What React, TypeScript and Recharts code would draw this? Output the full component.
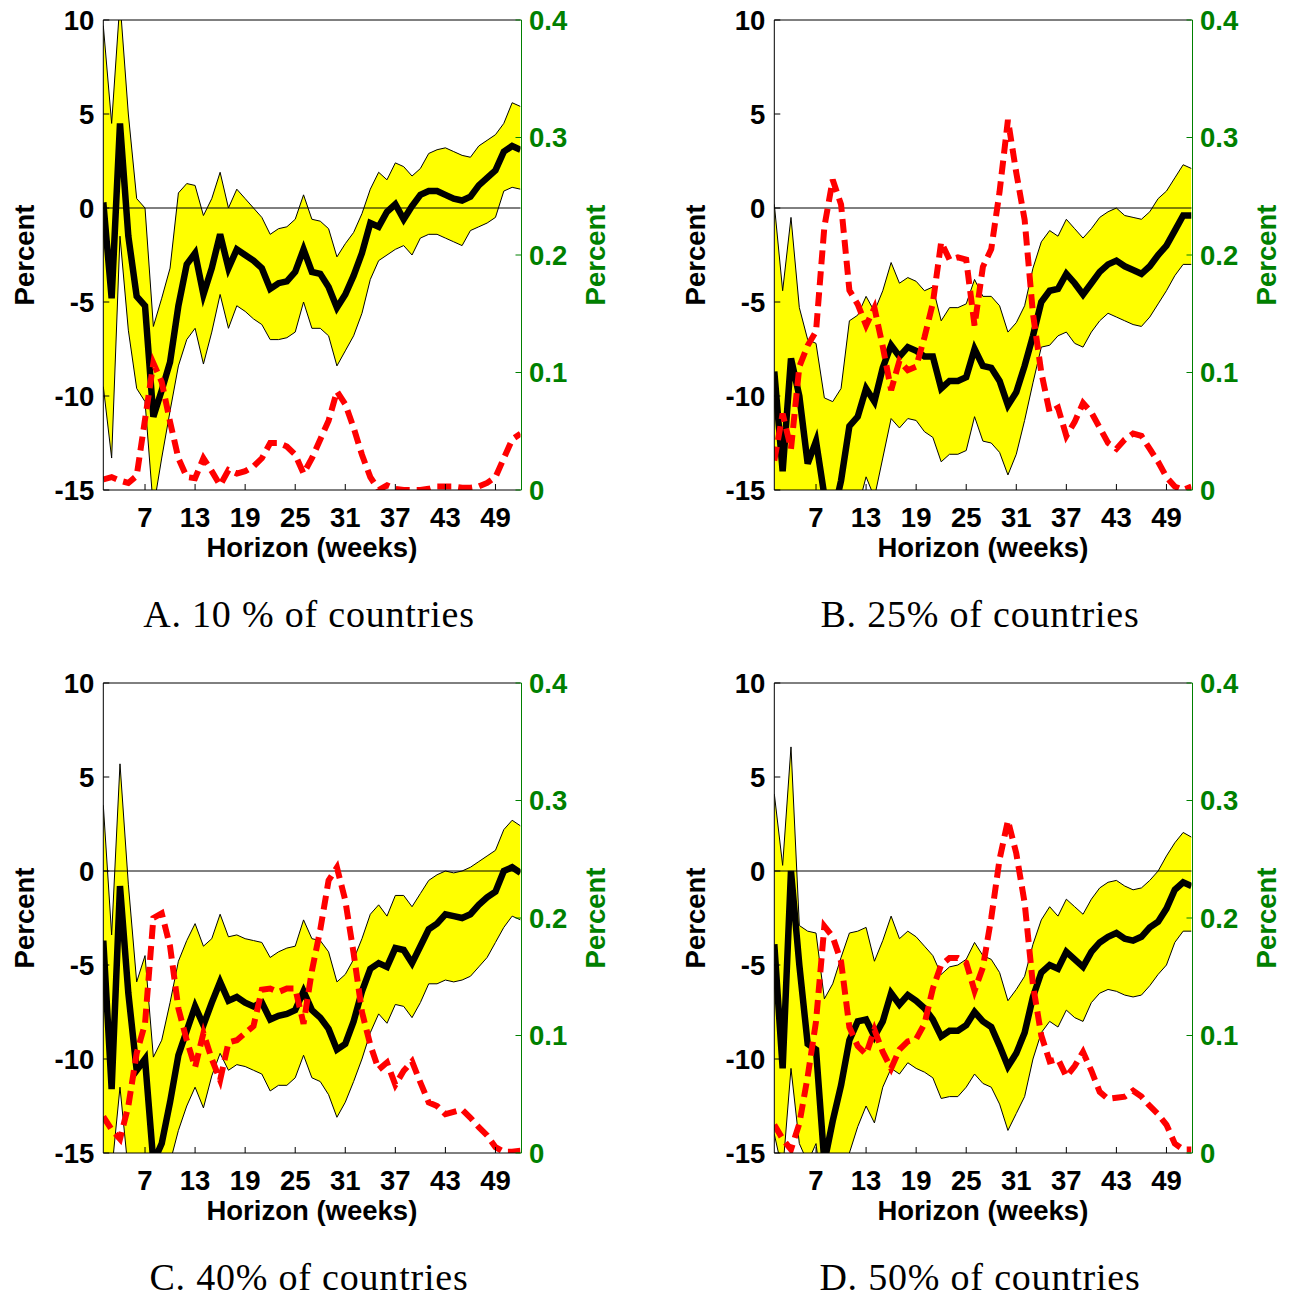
import { ComposedChart, Area, Line, XAxis, YAxis, ReferenceLine } from 'recharts'

// horizons shown on the x axis (weeks)
const weeks = [2, 3, 4, 5, 6, 7, 8, 9, 10, 11, 12, 13, 14, 15, 16, 17, 18, 19, 20, 21, 22, 23, 24, 25, 26, 27,
  28, 29, 30, 31, 32, 33, 34, 35, 36, 37, 38, 39, 40, 41, 42, 43, 44, 45, 46, 47, 48, 49, 50, 51, 52]
const weekTicks = [7, 13, 19, 25, 31, 37, 43, 49]
const pctTicks = [-15, -10, -5, 0, 5, 10]
const shareTicks = [0, 0.1, 0.2, 0.3, 0.4]

// A. 10 % of countries
const aUpper = [9.7, 4.5, 11, 5, 0.5, 0, -6.3, -4.8, -3.2, 0.8, 1.3, 1.2, -0.4, 0.5, 1.9, 0, 1.0, 0.5, 0, -0.5,
  -1.4, -1.1, -1.0, -0.6, 0.7, -0.6, -0.7, -1.1, -2.6, -1.9, -1.3, -0.3, 1.0, 1.9, 1.5, 2.4, 2.2, 1.7, 2.1, 2.9,
  3.1, 3.2, 3.0, 2.8, 2.7, 3.3, 3.6, 3.9, 4.5, 5.6, 5.4]
const aMid = [0.3, -4.8, 4.5, -1.5, -4.7, -5.2, -11.1, -9.7, -8.2, -5.2, -3.0, -2.4, -4.6, -3.2, -1.4, -3.2, -2.2,
  -2.5, -2.8, -3.2, -4.3, -4.0, -3.9, -3.4, -2.2, -3.4, -3.5, -4.2, -5.3, -4.6, -3.6, -2.4, -0.8, -1.0, -0.2, 0.2,
  -0.6, 0.1, 0.7, 0.9, 0.9, 0.7, 0.5, 0.4, 0.6, 1.2, 1.6, 2.0, 3.0, 3.3, 3.1]
const aLower = [-9.5, -13.3, -1.5, -6.5, -9.6, -10.3, -16, -13.3, -10.8, -8.4, -7.0, -6.4, -8.3, -6.6, -4.6, -6.4,
  -5.2, -5.5, -5.9, -6.2, -7.0, -7.0, -6.9, -6.6, -5.0, -6.4, -6.4, -6.8, -8.4, -7.6, -6.8, -5.6, -3.8, -2.8, -2.5,
  -2.2, -2.0, -2.5, -1.6, -1.4, -1.4, -1.6, -1.8, -2.0, -1.2, -1.0, -0.8, -0.5, 0.9, 1.1, 1.0]
const aShare = [0.009, 0.011, 0.008, 0.006, 0.012, 0.06, 0.108, 0.092, 0.058, 0.027, 0.011, 0.01, 0.027, 0.016,
  0.004, 0.017, 0.014, 0.016, 0.02, 0.027, 0.04, 0.04, 0.037, 0.03, 0.014, 0.027, 0.043, 0.059, 0.084, 0.073, 0.053,
  0.03, 0.011, 0, 0.004, 0.001, 0, 0, 0, 0.001, 0.003, 0.003, 0.003, 0.002, 0.002, 0.003, 0.006, 0.011, 0.027,
  0.043, 0.048]

// B. 25% of countries
const bUpper = [0.2, -4.4, -0.5, -5.3, -7.0, -7.2, -10.1, -10.3, -9.6, -6.0, -5.7, -4.7, -5.5, -4.4, -2.9, -4.0,
  -3.7, -3.9, -4.4, -4.2, -6.0, -5.3, -5.3, -5.1, -3.8, -4.7, -4.7, -5.2, -6.6, -6.1, -5.2, -3.2, -1.8, -1.2, -1.5,
  -0.6, -1.1, -1.6, -1.1, -0.5, -0.2, 0, -0.4, -0.5, -0.6, -0.2, 0.5, 0.9, 1.6, 2.3, 2.1]
const bMid = [-8.7, -14.0, -8.0, -10.0, -13.6, -12.4, -15.3, -16.5, -14.5, -11.6, -11.1, -9.6, -10.3, -8.5, -7.3,
  -7.9, -7.4, -7.6, -7.9, -7.9, -9.6, -9.2, -9.2, -9.0, -7.5, -8.4, -8.5, -9.2, -10.5, -9.8, -8.4, -6.8, -5.0, -4.4,
  -4.3, -3.5, -4.0, -4.6, -4.0, -3.4, -3.0, -2.8, -3.1, -3.3, -3.5, -3.1, -2.5, -2.0, -1.2, -0.4, -0.4]
const bLower = [-17, -18, -17, -18, -19, -20, -21, -21, -19, -17, -16, -14.3, -15.4, -13.3, -11.2, -11.7, -11.2,
  -11.3, -11.9, -12.2, -13.5, -13.1, -13.1, -12.9, -11.1, -12.4, -12.5, -13.0, -14.2, -13.1, -11.3, -9.3, -7.4, -7.3,
  -6.8, -6.6, -7.2, -7.4, -6.6, -6.0, -5.6, -5.8, -6.0, -6.2, -6.3, -5.8, -5.1, -4.4, -3.6, -3.0, -3.0]
const bShare = [0.025, 0.065, 0.035, 0.105, 0.123, 0.135, 0.224, 0.264, 0.243, 0.17, 0.158, 0.14, 0.155, 0.122,
  0.085, 0.11, 0.102, 0.105, 0.13, 0.159, 0.211, 0.196, 0.198, 0.196, 0.14, 0.19, 0.205, 0.254, 0.315, 0.27, 0.23,
  0.15, 0.1, 0.066, 0.07, 0.046, 0.058, 0.074, 0.066, 0.053, 0.04, 0.035, 0.043, 0.048, 0.046, 0.035, 0.024, 0.011,
  0.003, 0, 0.003]

// C. 40% of countries
const cUpper = [3.5, -3.4, 5.7, -0.7, -5.9, -4.5, -9.9, -9.0, -7.0, -4.8, -3.7, -2.8, -4.0, -3.6, -2.3, -3.5, -3.4,
  -3.6, -3.7, -3.8, -4.6, -4.3, -4.1, -4.0, -2.6, -3.6, -3.7, -4.3, -5.9, -5.5, -4.7, -3.6, -2.3, -1.8, -2.4, -1.3,
  -1.3, -1.9, -1.2, -0.5, -0.2, 0, -0.1, 0, 0.2, 0.5, 0.8, 1.1, 2.2, 2.7, 2.4]
const cMid = [-3.7, -11.6, -0.8, -6.5, -10.6, -10.0, -15.5, -14.5, -12.3, -9.8, -8.5, -7.2, -8.2, -7.0, -5.9, -6.9,
  -6.7, -7.0, -7.2, -7.0, -7.9, -7.7, -7.6, -7.4, -6.4, -7.4, -7.8, -8.4, -9.5, -9.2, -8.0, -6.4, -5.2, -4.9, -5.1,
  -4.1, -4.2, -4.9, -4.0, -3.1, -2.8, -2.3, -2.4, -2.5, -2.3, -1.8, -1.4, -1.1, 0, 0.2, -0.1]
const cLower = [-17, -16, -11.5, -16, -16, -18, -20, -19, -15.5, -13.8, -12.5, -11.5, -12.6, -10.9, -9.7, -10.6,
  -10.3, -10.4, -10.6, -10.8, -11.7, -11.4, -11.4, -11.0, -9.8, -11.0, -11.2, -11.9, -13.1, -12.3, -11.2, -10.0,
  -8.6, -7.6, -8.1, -7.1, -7.2, -7.8, -7.0, -6.0, -6.0, -5.8, -5.9, -5.8, -5.6, -5.1, -4.6, -3.8, -3.0, -2.4, -2.6]
const cShare = [0.031, 0.02, 0.012, 0.04, 0.085, 0.11, 0.2, 0.204, 0.176, 0.123, 0.096, 0.073, 0.102, 0.08, 0.062,
  0.094, 0.096, 0.102, 0.108, 0.139, 0.14, 0.137, 0.14, 0.14, 0.11, 0.155, 0.19, 0.232, 0.243, 0.215, 0.17, 0.12,
  0.092, 0.071, 0.077, 0.058, 0.07, 0.078, 0.06, 0.043, 0.04, 0.033, 0.035, 0.037, 0.03, 0.022, 0.015, 0.005, 0.001,
  0.001, 0.002]

// D. 50% of countries
const dUpper = [4.1, 0.3, 6.6, -2.9, -3.2, -3.3, -6.8, -6.0, -4.6, -3.3, -3.2, -3.0, -4.8, -3.7, -2.4, -3.6, -3.2,
  -3.5, -4.0, -4.5, -5.5, -5.1, -5.0, -4.7, -3.8, -4.5, -4.7, -5.4, -6.9, -6.3, -5.6, -3.9, -2.6, -1.9, -2.4, -1.5,
  -1.9, -2.3, -1.5, -0.9, -0.6, -0.5, -0.8, -1.0, -0.9, -0.5, 0, 0.8, 1.5, 2.05, 1.8]
const dMid = [-3.9, -10.5, 0, -5.0, -9.2, -9.5, -15.5, -13.3, -11.4, -9.0, -8.0, -7.9, -8.8, -8.0, -6.5, -7.1, -6.6,
  -6.9, -7.3, -7.9, -8.8, -8.5, -8.5, -8.2, -7.5, -8.0, -8.3, -9.3, -10.4, -9.7, -8.6, -6.7, -5.4, -5.0, -5.2, -4.3,
  -4.7, -5.1, -4.3, -3.8, -3.5, -3.3, -3.6, -3.7, -3.5, -3.0, -2.7, -2.0, -1.0, -0.6, -0.8]
const dLower = [-14, -16, -10.5, -14.5, -15.5, -14.5, -18, -17, -16, -15, -13.6, -12.5, -13.4, -11.5, -10.5, -10.8,
  -10.2, -10.5, -10.7, -11.0, -12.1, -12.0, -12.0, -11.5, -10.8, -11.3, -11.5, -12.4, -13.8, -12.9, -12.0, -10.0,
  -8.6, -8.0, -8.3, -7.4, -7.8, -8.0, -7.0, -6.5, -6.3, -6.4, -6.6, -6.7, -6.6, -6.1, -5.5, -5.0, -3.8, -3.2, -3.2]
const dShare = [0.024, 0.012, 0.003, 0.025, 0.065, 0.112, 0.193, 0.184, 0.163, 0.107, 0.091, 0.084, 0.105, 0.086,
  0.072, 0.088, 0.095, 0.097, 0.11, 0.14, 0.16, 0.166, 0.166, 0.162, 0.138, 0.158, 0.2, 0.25, 0.283, 0.255, 0.213,
  0.143, 0.1, 0.078, 0.08, 0.065, 0.074, 0.086, 0.07, 0.052, 0.046, 0.047, 0.048, 0.053, 0.048, 0.04, 0.033, 0.024,
  0.008, 0.003, 0.003]

const W = 646
const H = 663
const PLOT = { left: 103.3, right: 520.5, top: 20, bottom: 490 }
const SANS = '"Liberation Sans", Arial, Helvetica, sans-serif'
const SERIF = '"Liberation Serif", "Times New Roman", serif'
const GREEN = '#008000'
const FS = 27.5

function Panel({ upper, mid, lower, share, caption }: {
  upper: number[]; mid: number[]; lower: number[]; share: number[]; caption: string
}) {
  const rows = weeks.map((week, i) => ({ week, band: [lower[i], upper[i]], mid: mid[i], share: share[i] }))
  const cy = (PLOT.top + PLOT.bottom) / 2
  const cx = (PLOT.left + PLOT.right) / 2
  const tickFont = { fontSize: FS, fontFamily: SANS, fontWeight: 'bold' }

  return (
    <div style={{ position: 'relative', width: W, height: H }}>
      <ComposedChart width={W} height={H} data={rows} margin={{ top: PLOT.top - 1, right: 0, bottom: 0, left: 0 }}>
        <XAxis xAxisId="b" dataKey="week" type="number" domain={[2, 52]} ticks={weekTicks} interval={0}
          allowDataOverflow height={H - PLOT.bottom} tickSize={-6} tickMargin={23} stroke="#000"
          tick={{ ...tickFont, fill: '#000' }}
          label={() => (
            <text x={cx} y={557} textAnchor="middle" fontSize={FS} fontWeight="bold" fontFamily={SANS}
              fill="#000">Horizon (weeks)</text>
          )} />
        {/* top frame with inward ticks */}
        <XAxis xAxisId="t" orientation="top" dataKey="week" type="number" domain={[2, 52]} ticks={weekTicks}
          interval={0} allowDataOverflow height={1} tickSize={-6} tick={false} stroke="#000" />
        <YAxis yAxisId="l" domain={[-15, 10]} ticks={pctTicks} interval={0} allowDataOverflow width={PLOT.left}
          tickSize={-6} tickMargin={15} stroke="#000" tick={{ ...tickFont, fill: '#000' }}
          label={() => (
            <text x={34} y={cy} transform={`rotate(-90 34 ${cy})`} textAnchor="middle" fontSize={FS}
              fontWeight="bold" fontFamily={SANS} fill="#000">Percent</text>
          )} />
        {/* left scale ticks repeated on the right edge */}
        <YAxis yAxisId="m" orientation="right" domain={[-15, 10]} ticks={pctTicks} interval={0} width={1}
          tickSize={-6} tick={false} axisLine={false} stroke="#000" />
        <YAxis yAxisId="r" orientation="right" domain={[0, 0.4]} ticks={shareTicks} interval={0} allowDataOverflow
          width={W - PLOT.right - 1} tickSize={-6} tickMargin={13.5} stroke={GREEN}
          tick={{ ...tickFont, fill: GREEN }}
          label={() => (
            <text x={605} y={cy} transform={`rotate(-90 605 ${cy})`} textAnchor="middle" fontSize={FS}
              fontWeight="bold" fontFamily={SANS} fill={GREEN}>Percent</text>
          )} />
        <Area xAxisId="b" yAxisId="l" dataKey="band" type="linear" fill="#FFFF00" fillOpacity={1} stroke="#000"
          strokeWidth={1} dot={false} activeDot={false} isAnimationActive={false} />
        <ReferenceLine xAxisId="b" yAxisId="l" y={0} stroke="#000" strokeWidth={1} />
        <Line xAxisId="b" yAxisId="l" dataKey="mid" type="linear" stroke="#000" strokeWidth={6.5} dot={false}
          activeDot={false} isAnimationActive={false} />
        <Line xAxisId="b" yAxisId="r" dataKey="share" type="linear" stroke="#FF0000" strokeWidth={6}
          strokeDasharray="14 7" dot={false} activeDot={false} isAnimationActive={false} />
      </ComposedChart>
      <svg width={W} height={H} style={{ position: 'absolute', left: 0, top: 0, pointerEvents: 'none' }}>
        <text x={309} y={627} textAnchor="middle" fontSize={38} letterSpacing={0.8} fontFamily={SERIF} fill="#000">
          {caption}
        </text>
      </svg>
    </div>
  )
}

export default function App() {
  const cell = (left: number, top: number) => ({ position: 'absolute' as const, left, top })
  return (
    <div style={{ position: 'absolute', left: 0, top: 0, width: 1291, height: 1297, background: '#fff' }}>
      <div style={cell(0, 0)}>
        <Panel upper={aUpper} mid={aMid} lower={aLower} share={aShare} caption="A. 10 % of countries" />
      </div>
      <div style={cell(671, 0)}>
        <Panel upper={bUpper} mid={bMid} lower={bLower} share={bShare} caption="B. 25% of countries" />
      </div>
      <div style={cell(0, 663)}>
        <Panel upper={cUpper} mid={cMid} lower={cLower} share={cShare} caption="C. 40% of countries" />
      </div>
      <div style={cell(671, 663)}>
        <Panel upper={dUpper} mid={dMid} lower={dLower} share={dShare} caption="D. 50% of countries" />
      </div>
    </div>
  )
}
